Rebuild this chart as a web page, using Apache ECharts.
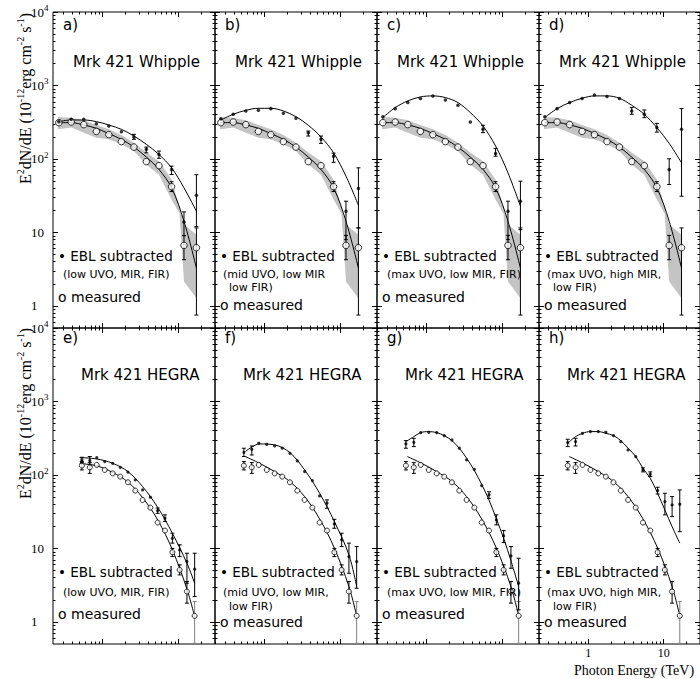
<!DOCTYPE html>
<html><head><meta charset="utf-8">
<script src="https://cdn.jsdelivr.net/npm/echarts@6/dist/echarts.min.js"></script>
<style>html,body{margin:0;padding:0;background:#fff}#c{width:700px;height:679px}</style>
</head><body><div id="c"></div>
<script>
// ---------- Whipple data (panels a-d) ----------
const whippleE = [0.266,0.387,0.567,0.83,1.21,1.77,2.59,3.77,5.53,8.1,11.8,17.2];
const whippleMeasured = [312,318,293,237,214,172,145,92,81,42,6.65,6.19];
const whippleMeasuredErr = [[8.1,36,49],[11.8,4.25,9.1],[17.2,0.75,11.5]];
const whippleMeasuredFit = [312,312,290,261,221,185,145,106,72,40.4,14.2,3.27];
const whippleBandE = [0.26,0.387,0.567,0.83,1.21,1.77,2.59,3.77,5.53,8.1,10.3,11.8,17.2];
const whippleBandUpper = [372,365,335,290,253,211,166,122,93,52.5,22,12.8,9.3];
const whippleBandLower = [253,267,228,195,185,158,128,84,61,28,18,2.15,1.27];

const eblA = [322,346,346,302,281,235,199,135,115,72,13.9,32];
const eblB = [353,405,450,459,484,418,357,228,185,109,19.4,39.6];
const eblC = [376,484,585,663,721,636,537,318,253,119,19.4,26.6];
const eblD = [376,484,585,663,744,706,663,450,405,267,72,253];
const eblFitA = [322,339,339,322,290,253,205,158,115,75.7,40.4,19.4];
const eblFitB = [339,405,459,489,489,450,376,287,199,121,58.3,23.4];
const eblFitC = [365,500,616,698,721,684,585,427,281,150,64.7,22.7];
const eblFitD = [365,484,585,670,721,721,670,537,405,267,163,88.7];
const eblErrA = [[2.59,185,216],[3.77,121,145],[5.53,102,128],[8.1,61.4,79.8],[11.8,9,19],[17.2,12,61]];
const eblErrB = [[3.77,205,240],[5.53,163,205],[8.1,90,120],[11.8,7.96,26.6],[17.2,11.5,75.7]];
const eblErrC = [[5.53,228,287],[8.1,109,139],[11.8,7.96,26.6],[17.2,10.9,49.8]];
const eblErrD = [[3.77,405,500],[5.53,365,464],[8.1,232,305],[11.8,44.9,100.5],[17.2,31.1,484]];

// ---------- HEGRA data (panels e-h) ----------
const hegraE = [0.535,0.68,0.84,1.07,1.36,1.71,2.16,2.7,3.37,4.26,5.31,6.63,8.3,10.35,12.9,16.3];
const hegraMeasured = [134,127,137,117,105,94.9,79.5,61.2,45.7,35.9,22.5,17.5,8.87,5.1,2.59,1.21];
const hegraMeasuredErr = [[0.535,117,152],[0.68,105,147],[8.3,7.74,10],[10.35,4.36,5.97],[12.9,1.8,3.54]];
const hegraMeasuredErrGray = [[16.3,0.51,1.89]];
const hegraFitEe = [0.5,0.84,1.36,2.16,3.37,5.31,8.3,12.9,16.3];
const hegraMeasuredFitE = [143,133,108,80,49,24.5,9.6,2.8,1.18];
const hegraFitE = [0.56,0.861,1.36,2.16,3.37,5.31,8.3,12.9,16.3];
const hegraMeasuredFit = [178,144,111,81.2,50.7,25.2,10.1,3.02,1.21];

const eblE = [160,157,172,152,144,127,109,85.5,62.5,49.7,32.7,25.7,13.7,9.54,6.62,5.21];
const eblF = [203,223,270,261,248,231,197,155,111,83.7,51.8,41.2,21.5,13.1,7.74,6.62];
const eblG = [264,278,377,381,377,343,299,231,160,119,71.6,53.4,24.4,14.8,7.91,3.36];
const eblH = [275,284,369,389,389,381,343,284,219,178,117,102,61.2,43.4,39.1,39.9];
const eblFitE = [172,165,144,111,69.4,36.3,16.1,6.28,3.36];           // at hegraFitEe
const eblFitF = [208,264,256,201,117,56.3,23.2,8.16,3.02];            // at hegraFitE
const eblFitG = [284,332,377,389,377,343,293,231,169,115,74.6,45.7,25.2,13.7,6.83,3.02]; // at hegraE
const eblFitH = [270,332,369,389,389,369,343,293,231,178,123,90.1,56.3,33.4,19.8,11.8];  // at hegraE
const eblErrE = [[0.535,147,174],[0.68,137,178],[5.31,30,35.5],[6.63,23.2,28.6],[8.3,11.8,16.1],[10.35,7.74,11.2],[12.9,3.36,8.6],[16.3,2.21,8.6]];
const eblErrF = [[0.535,178,231],[0.68,187,248],[6.63,35.2,45.7],[8.3,18.8,24.9],[10.35,10.6,16.1],[12.9,4.59,11.8],[16.3,2.87,10.6]];
const eblErrG = [[0.535,231,293],[0.68,243,315],[6.63,48,59],[8.3,20.9,28.6],[10.35,12,17.5],[12.9,5.37,10.6],[16.3,1.46,7.35]];
const eblErrH = [[0.535,243,306],[0.68,248,315],[5.31,110,125],[6.63,95,110],[8.3,55,68],[10.35,28.6,56.3],[12.9,27.1,50.7],[16.3,16.9,62.5]];

// ---------- ticks ----------
const xMajorTicks = [1,10];
const xMinorTicks = [0.3,0.4,0.5,0.6,0.7,0.8,0.9,2,3,4,5,6,7,8,9,20,30];
const yMajorTicks = [1,10,100,1000,10000];
const yMinorTicks = [0.6,0.7,0.8,0.9,2,3,4,5,6,7,8,9,20,30,40,50,60,70,80,90,200,300,400,500,600,700,800,900,2000,3000,4000,5000,6000,7000,8000,9000];

const panels = [
 {row:0,col:0,tag:'a)',title:'Mrk 421 Whipple',notes:['(low UVO, MIR, FIR)'],kind:'W',ebl:eblA,fit:eblFitA,err:eblErrA},
 {row:0,col:1,tag:'b)',title:'Mrk 421 Whipple',notes:['(mid UVO, low MIR','low FIR)'],kind:'W',ebl:eblB,fit:eblFitB,err:eblErrB},
 {row:0,col:2,tag:'c)',title:'Mrk 421 Whipple',notes:['(max UVO, low MIR, FIR)'],kind:'W',ebl:eblC,fit:eblFitC,err:eblErrC},
 {row:0,col:3,tag:'d)',title:'Mrk 421 Whipple',notes:['(max UVO, high MIR,','low FIR)'],kind:'W',ebl:eblD,fit:eblFitD,err:eblErrD},
 {row:1,col:0,tag:'e)',title:'Mrk 421 HEGRA',notes:['(low UVO, MIR, FIR)'],kind:'H',ebl:eblE,fit:eblFitE,fitX:hegraFitEe,err:eblErrE,mfit:hegraMeasuredFitE,mfitX:hegraFitEe},
 {row:1,col:1,tag:'f)',title:'Mrk 421 HEGRA',notes:['(mid UVO, low MIR,','low FIR)'],kind:'H',ebl:eblF,fit:eblFitF,fitX:hegraFitE,err:eblErrF,mfit:hegraMeasuredFit,mfitX:hegraFitE},
 {row:1,col:2,tag:'g)',title:'Mrk 421 HEGRA',notes:['(max UVO, low MIR, FIR)'],kind:'H',ebl:eblG,fit:eblFitG,fitX:hegraE,err:eblErrG,mfit:hegraMeasuredFit,mfitX:hegraFitE},
 {row:1,col:3,tag:'h)',title:'Mrk 421 HEGRA',notes:['(max UVO, high MIR,','low FIR)'],kind:'H',ebl:eblH,fit:eblFitH,fitX:hegraE,err:eblErrH,mfit:hegraMeasuredFit,mfitX:hegraFitE}
];

const XMIN=0.223, XMAX=30.2, YMIN=0.5, YMAX=10000;
const COLS=[53,215,377,539], PW=162, ROWS=[12,328], PH=316;
const SERIF='Liberation Serif';
const SANS='DejaVu Sans';
const supFmt = v => { const n=Math.round(Math.log10(v)); return n===0?'1':(n===1?'10':'10{s|'+n+'}'); };

function mkX(g,pos,ticks,len,labels){
  return {type:'log',logBase:10,gridIndex:g,position:pos,min:XMIN,max:XMAX,
    axisLine:{show:false},splitLine:{show:false},minorTick:{show:false},
    axisTick:{show:true,inside:true,length:len,customValues:ticks,lineStyle:{color:'#000',width:1}},
    axisLabel:{show:!!labels,customValues:ticks,margin:3,color:'#000',fontFamily:SERIF,fontSize:12,lineHeight:12,formatter:v=>String(Math.round(v))}};
}
function mkY(g,pos,ticks,len,labels){
  return {type:'log',logBase:10,gridIndex:g,position:pos,min:YMIN,max:YMAX,
    axisLine:{show:false},splitLine:{show:false},minorTick:{show:false},
    axisTick:{show:true,inside:true,length:len,customValues:ticks,lineStyle:{color:'#000',width:1}},
    axisLabel:{show:!!labels,customValues:ticks,margin:22,align:'left',color:'#000',fontFamily:SERIF,fontSize:13,
      formatter:supFmt,rich:{s:{fontSize:9,fontFamily:SERIF,color:'#000',padding:[0,0,8,0]}}}};
}
function errSeries(xi,yi,data,color){
  return {type:'custom',xAxisIndex:xi,yAxisIndex:yi,z:3,silent:true,data:data,encode:{x:0,y:[1,2]},
    renderItem:(params,api)=>{
      const a=api.coord([api.value(0),api.value(1)]), b=api.coord([api.value(0),api.value(2)]);
      const st={stroke:color,lineWidth:1};
      return {type:'group',children:[
        {type:'line',shape:{x1:a[0],y1:a[1],x2:b[0],y2:b[1]},style:st},
        {type:'line',shape:{x1:a[0]-2,y1:a[1],x2:a[0]+2,y2:a[1]},style:st},
        {type:'line',shape:{x1:b[0]-2,y1:b[1],x2:b[0]+2,y2:b[1]},style:st}]};
    }};
}
function bandSeries(xi,yi){
  return {type:'custom',xAxisIndex:xi,yAxisIndex:yi,z:1,silent:true,
    data:whippleBandE.map((e,k)=>[e,whippleBandLower[k],whippleBandUpper[k]]),encode:{x:0,y:[1,2]},
    renderItem:(params,api)=>{
      if(params.dataIndex!==0) return null;
      const up=whippleBandE.map((e,k)=>api.coord([e,whippleBandUpper[k]]));
      const lo=whippleBandE.map((e,k)=>api.coord([e,whippleBandLower[k]])).reverse();
      return {type:'polygon',shape:{points:up.concat(lo)},style:{fill:'#c4c4c4',stroke:null}};
    }};
}
function lineSeries(xi,yi,xs,ys){
  return {type:'line',xAxisIndex:xi,yAxisIndex:yi,z:2,silent:true,smooth:0.35,showSymbol:false,symbol:'none',
    data:xs.map((e,k)=>[e,ys[k]]),lineStyle:{color:'#000',width:1}};
}

const grids=[],xAxes=[],yAxes=[],series=[],graphics=[];
panels.forEach((p,i)=>{
  const left=COLS[p.col], top=ROWS[p.row];
  grids.push({left:left,top:top,width:PW,height:PH,show:true,borderColor:'#000',borderWidth:1,backgroundColor:'transparent'});
  xAxes.push(mkX(i,'bottom',xMajorTicks,5,i===7));
  xAxes.push(mkX(i,'bottom',xMinorTicks,2.5,false));
  xAxes.push(mkX(i,'top',xMajorTicks,5,false));
  xAxes.push(mkX(i,'top',xMinorTicks,2.5,false));
  yAxes.push(mkY(i,'left',yMajorTicks,5,p.col===0));
  yAxes.push(mkY(i,'left',yMinorTicks,2.5,false));
  yAxes.push(mkY(i,'right',yMajorTicks,5,false));
  yAxes.push(mkY(i,'right',yMinorTicks,2.5,false));
  const xi=4*i, yi=4*i;
  if(p.kind==='W'){
    series.push(bandSeries(xi,yi));
    series.push(lineSeries(xi,yi,whippleE,whippleMeasuredFit));
    series.push(lineSeries(xi,yi,whippleE,p.fit));
    series.push(errSeries(xi,yi,whippleMeasuredErr,'#000'));
    series.push(errSeries(xi,yi,p.err,'#000'));
    series.push({type:'scatter',xAxisIndex:xi,yAxisIndex:yi,z:4,silent:true,symbol:'circle',symbolSize:6.5,
      data:whippleE.map((e,k)=>[e,whippleMeasured[k]]),itemStyle:{color:'#fff',borderColor:'#000',borderWidth:1}});
    series.push({type:'scatter',xAxisIndex:xi,yAxisIndex:yi,z:5,silent:true,symbol:'circle',symbolSize:3.5,
      data:whippleE.map((e,k)=>[e,p.ebl[k]]),itemStyle:{color:'#000'}});
  } else {
    series.push(lineSeries(xi,yi,p.mfitX,p.mfit));
    series.push(lineSeries(xi,yi,p.fitX,p.fit));
    series.push(errSeries(xi,yi,hegraMeasuredErr,'#000'));
    series.push(errSeries(xi,yi,hegraMeasuredErrGray,'#808080'));
    series.push(errSeries(xi,yi,p.err,'#000'));
    series.push({type:'scatter',xAxisIndex:xi,yAxisIndex:yi,z:4,silent:true,symbol:'circle',symbolSize:5,
      data:hegraE.map((e,k)=>[e,hegraMeasured[k]]),itemStyle:{color:'#fff',borderColor:'#000',borderWidth:1}});
    series.push({type:'scatter',xAxisIndex:xi,yAxisIndex:yi,z:5,silent:true,symbol:'circle',symbolSize:3.2,
      data:hegraE.map((e,k)=>[e,p.ebl[k]]),itemStyle:{color:'#000'}});
  }
  const W = p.kind==='W';
  const two = p.notes.length===2;
  const txt=(x,y,t,size)=>graphics.push({type:'text',x:x,y:y,z:10,silent:true,
    style:{text:t,fontSize:size,fontFamily:SANS,fill:'#000',textAlign:'left',textVerticalAlign:'middle'}});
  txt(left+10, top+(W?13:10), p.tag, 15);
  txt(left+(W?20:28), top+(W?50:47), p.title, 15);
  txt(left+5, top+243.5, '\u2022 EBL subtracted', 13.5);
  txt(left+(two?8:10), top+(W?262.5:264), p.notes[0], 11);
  if(two) txt(left+14, top+(W?275.5:278), p.notes[1], 11);
  txt(left+5, top+(two?(W?293:294):(W?285:286)), 'o measured', 14);
});

const yTitle='E{s|2}dN/dE (10{s|-12}erg cm{s|-2} s{s|-1})';
[98.5, 413.5].forEach(cy=>graphics.push({type:'text',x:25,y:cy,rotation:Math.PI/2,z:10,silent:true,
  style:{text:yTitle,fontSize:16,fontFamily:SERIF,fill:'#000',textAlign:'center',textVerticalAlign:'middle',
    rich:{s:{fontSize:10,fontFamily:SERIF,fill:'#000',padding:[0,0,9,0]}}}}));
graphics.push({type:'text',x:634,y:670,z:10,silent:true,
  style:{text:'Photon Energy (TeV)',fontSize:14,fontFamily:SERIF,fill:'#000',textAlign:'center',textVerticalAlign:'middle'}});

const chart=echarts.init(document.getElementById('c'),null,{renderer:'svg'});
chart.setOption({animation:false,backgroundColor:'#fff',grid:grids,xAxis:xAxes,yAxis:yAxes,series:series,graphic:graphics});
</script></body></html>
